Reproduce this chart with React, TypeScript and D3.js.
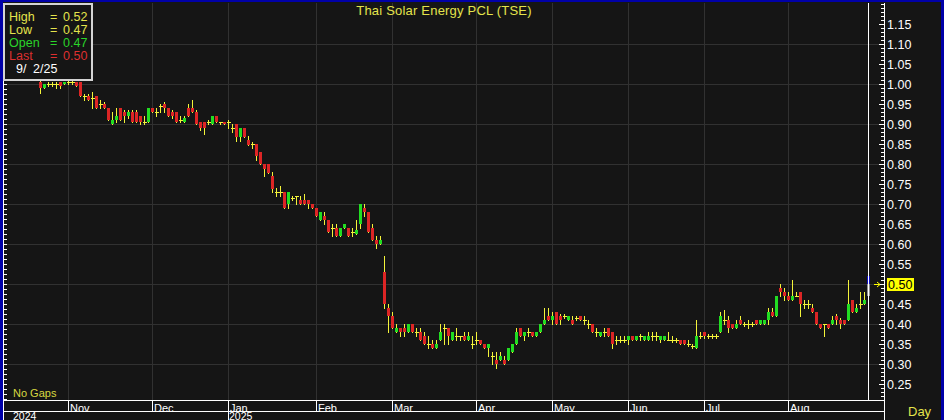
import React from 'react';
import * as d3 from 'd3';

// Daily OHLC, Thai Solar Energy PCL (TSE), late Oct 2024 -> 2 Sep 2025
const opens = [
  1.005, 0.99, 1.0, 1.0, 1.0, 1.005, 1.0, 1.005, 1.005, 1.005, 1.005, 0.97, 0.97, 0.965, 0.97, 0.95, 0.95, 0.94, 0.9, 0.91,
  0.94, 0.93, 0.92, 0.93, 0.93, 0.92, 0.905, 0.905, 0.94, 0.93, 0.945, 0.95, 0.94, 0.93, 0.93, 0.91, 0.905, 0.94, 0.94, 0.93,
  0.905, 0.905, 0.905, 0.9, 0.92, 0.905, 0.905, 0.905, 0.89, 0.9, 0.868, 0.89, 0.86, 0.85, 0.85, 0.83, 0.8, 0.8, 0.77, 0.73,
  0.73, 0.73, 0.7, 0.715, 0.72, 0.71, 0.71, 0.71, 0.7, 0.69, 0.66, 0.67, 0.66, 0.64, 0.64, 0.62, 0.64, 0.64, 0.63, 0.625,
  0.65, 0.69, 0.68, 0.64, 0.61, 0.6, 0.53, 0.44, 0.42, 0.38, 0.39, 0.39, 0.38, 0.4, 0.38, 0.38, 0.37, 0.35, 0.35, 0.34,
  0.36, 0.39, 0.39, 0.36, 0.37, 0.37, 0.37, 0.36, 0.35, 0.36, 0.36, 0.35, 0.34, 0.32, 0.31, 0.31, 0.31, 0.31, 0.33, 0.35,
  0.39, 0.37, 0.38, 0.38, 0.37, 0.38, 0.4, 0.42, 0.41, 0.43, 0.42, 0.42, 0.41, 0.41, 0.415, 0.42, 0.41, 0.4, 0.4, 0.38,
  0.37, 0.38, 0.39, 0.38, 0.36, 0.36, 0.36, 0.36, 0.37, 0.36, 0.37, 0.36, 0.36, 0.37, 0.37, 0.36, 0.36, 0.36, 0.36, 0.36,
  0.36, 0.36, 0.35, 0.345, 0.34, 0.37, 0.38, 0.37, 0.37, 0.37, 0.38, 0.41, 0.41, 0.4, 0.39, 0.41, 0.4, 0.4, 0.4, 0.41,
  0.4, 0.4, 0.41, 0.43, 0.42, 0.49, 0.48, 0.47, 0.46, 0.47, 0.48, 0.45, 0.45, 0.44, 0.43, 0.4, 0.4, 0.4, 0.4, 0.42,
  0.41, 0.41, 0.41, 0.46, 0.43, 0.45, 0.45, 0.47,
];
const highs = [
  1.01, 1.0, 1.005, 1.005, 1.005, 1.005, 1.005, 1.01, 1.01, 1.005, 1.005, 0.975, 0.975, 0.98, 0.97, 0.96, 0.955, 0.94, 0.93, 0.94,
  0.94, 0.935, 0.935, 0.935, 0.935, 0.92, 0.92, 0.94, 0.94, 0.94, 0.95, 0.955, 0.94, 0.935, 0.93, 0.92, 0.92, 0.95, 0.96, 0.935,
  0.905, 0.905, 0.91, 0.92, 0.92, 0.905, 0.905, 0.91, 0.9, 0.9, 0.89, 0.89, 0.87, 0.855, 0.85, 0.83, 0.8, 0.8, 0.78, 0.74,
  0.745, 0.73, 0.73, 0.72, 0.72, 0.72, 0.725, 0.71, 0.7, 0.69, 0.68, 0.68, 0.66, 0.65, 0.65, 0.64, 0.65, 0.64, 0.64, 0.66,
  0.7, 0.7, 0.68, 0.65, 0.62, 0.62, 0.57, 0.45, 0.43, 0.4, 0.39, 0.4, 0.4, 0.4, 0.39, 0.39, 0.38, 0.37, 0.36, 0.36,
  0.4, 0.4, 0.39, 0.38, 0.39, 0.37, 0.38, 0.38, 0.37, 0.38, 0.36, 0.35, 0.35, 0.33, 0.33, 0.33, 0.32, 0.34, 0.35, 0.39,
  0.39, 0.38, 0.39, 0.38, 0.38, 0.4, 0.44, 0.44, 0.43, 0.43, 0.425, 0.425, 0.42, 0.42, 0.42, 0.42, 0.42, 0.41, 0.4, 0.39,
  0.38, 0.39, 0.39, 0.38, 0.37, 0.37, 0.37, 0.37, 0.37, 0.37, 0.375, 0.37, 0.38, 0.38, 0.38, 0.37, 0.37, 0.38, 0.37, 0.365,
  0.36, 0.36, 0.36, 0.35, 0.41, 0.38, 0.38, 0.375, 0.375, 0.375, 0.43, 0.435, 0.42, 0.4, 0.41, 0.42, 0.405, 0.41, 0.405, 0.41,
  0.41, 0.41, 0.44, 0.44, 0.47, 0.5, 0.49, 0.48, 0.51, 0.48, 0.48, 0.46, 0.46, 0.45, 0.43, 0.4, 0.4, 0.4, 0.42, 0.425,
  0.415, 0.41, 0.51, 0.46, 0.45, 0.48, 0.48, 0.52,
];
const lows = [
  0.978, 0.99, 0.995, 0.995, 0.99, 0.99, 1.0, 1.0, 1.0, 0.995, 0.97, 0.96, 0.96, 0.94, 0.94, 0.94, 0.94, 0.91, 0.9, 0.905,
  0.91, 0.905, 0.915, 0.905, 0.905, 0.9, 0.9, 0.905, 0.93, 0.92, 0.93, 0.93, 0.92, 0.915, 0.905, 0.905, 0.905, 0.92, 0.93, 0.9,
  0.885, 0.875, 0.9, 0.9, 0.905, 0.9, 0.9, 0.89, 0.88, 0.858, 0.858, 0.868, 0.848, 0.84, 0.81, 0.8, 0.77, 0.778, 0.73, 0.72,
  0.72, 0.69, 0.69, 0.71, 0.7, 0.7, 0.7, 0.69, 0.69, 0.67, 0.66, 0.65, 0.63, 0.62, 0.62, 0.62, 0.64, 0.62, 0.62, 0.625,
  0.64, 0.67, 0.63, 0.61, 0.59, 0.6, 0.44, 0.38, 0.39, 0.38, 0.37, 0.37, 0.38, 0.38, 0.37, 0.36, 0.35, 0.34, 0.34, 0.34,
  0.36, 0.35, 0.35, 0.36, 0.36, 0.36, 0.36, 0.36, 0.34, 0.35, 0.35, 0.34, 0.32, 0.3, 0.29, 0.31, 0.3, 0.31, 0.33, 0.35,
  0.37, 0.36, 0.37, 0.37, 0.37, 0.38, 0.4, 0.41, 0.4, 0.4, 0.4, 0.415, 0.41, 0.4, 0.41, 0.41, 0.4, 0.39, 0.38, 0.37,
  0.37, 0.37, 0.37, 0.34, 0.35, 0.355, 0.355, 0.35, 0.36, 0.36, 0.36, 0.36, 0.36, 0.36, 0.36, 0.355, 0.36, 0.36, 0.355, 0.355,
  0.35, 0.35, 0.345, 0.34, 0.34, 0.365, 0.365, 0.365, 0.365, 0.365, 0.38, 0.4, 0.38, 0.39, 0.39, 0.4, 0.395, 0.39, 0.395, 0.4,
  0.4, 0.4, 0.4, 0.42, 0.42, 0.47, 0.46, 0.46, 0.46, 0.47, 0.42, 0.44, 0.44, 0.43, 0.4, 0.39, 0.37, 0.39, 0.4, 0.4,
  0.39, 0.4, 0.41, 0.43, 0.43, 0.44, 0.45, 0.47,
];
const closes = [
  0.99, 1.0, 1.0, 1.0, 1.0, 0.995, 1.005, 1.005, 1.005, 0.995, 0.97, 0.97, 0.96, 0.965, 0.94, 0.95, 0.94, 0.91, 0.91, 0.92,
  0.91, 0.92, 0.93, 0.905, 0.905, 0.905, 0.905, 0.94, 0.93, 0.93, 0.945, 0.94, 0.92, 0.92, 0.905, 0.91, 0.915, 0.92, 0.93, 0.9,
  0.89, 0.89, 0.905, 0.92, 0.905, 0.905, 0.9, 0.905, 0.89, 0.868, 0.89, 0.868, 0.848, 0.85, 0.82, 0.8, 0.788, 0.778, 0.737, 0.73,
  0.73, 0.69, 0.73, 0.715, 0.72, 0.7, 0.7, 0.7, 0.69, 0.67, 0.68, 0.66, 0.63, 0.64, 0.62, 0.64, 0.65, 0.62, 0.63, 0.635,
  0.7, 0.68, 0.63, 0.61, 0.6, 0.61, 0.45, 0.42, 0.39, 0.39, 0.38, 0.38, 0.4, 0.38, 0.38, 0.36, 0.35, 0.35, 0.34, 0.35,
  0.38, 0.39, 0.37, 0.38, 0.37, 0.37, 0.36, 0.37, 0.35, 0.36, 0.35, 0.34, 0.35, 0.32, 0.3, 0.32, 0.3, 0.34, 0.35, 0.38,
  0.37, 0.38, 0.38, 0.37, 0.38, 0.4, 0.41, 0.41, 0.42, 0.4, 0.41, 0.42, 0.42, 0.4, 0.415, 0.41, 0.41, 0.4, 0.38, 0.38,
  0.38, 0.38, 0.37, 0.35, 0.36, 0.36, 0.36, 0.37, 0.36, 0.37, 0.37, 0.37, 0.37, 0.37, 0.37, 0.37, 0.37, 0.36, 0.36, 0.36,
  0.35, 0.35, 0.35, 0.345, 0.37, 0.37, 0.37, 0.37, 0.37, 0.37, 0.42, 0.41, 0.39, 0.39, 0.4, 0.4, 0.4, 0.4, 0.4, 0.4,
  0.41, 0.41, 0.43, 0.42, 0.47, 0.48, 0.47, 0.46, 0.47, 0.47, 0.45, 0.45, 0.45, 0.43, 0.4, 0.39, 0.4, 0.39, 0.41, 0.41,
  0.4, 0.4, 0.45, 0.43, 0.44, 0.45, 0.46, 0.5,
];

const monthLabels = ['Nov', 'Dec', 'Jan', 'Feb', 'Mar', 'Apr', 'May', 'Jun', 'Jul', 'Aug'];
const monthStarts = [7, 28, 47, 69, 88, 109, 128, 147, 166, 187];
const yearLabels = ['2024', '2025'];
const yearStarts = [-7, 47];
const priceTicks = d3.range(5, 24).map((i) => i * 0.05);
const gridPrices = d3.range(3, 12).map((i) => i * 0.1);
const lastDateLabel = ['9/', '2/25'];
const title = 'Thai Solar Energy PCL (TSE)';

const W = 944;
const H = 420;
const BG = '#151515';
const GRID = '#313131';
const UP = '#22dd22';
const DOWN = '#dc2525';
const WICK = '#f4f43a';
const TXT_Y = '#e4e44c';
const BLUE = '#0000a8';
const FONT = '"Liberation Sans", Arial, sans-serif';

export default function App() {
  const n = closes.length;
  const x = d3.scaleLinear().domain([0, n - 1]).range([40, 868]);
  const y = d3.scaleLinear().domain([0.25, 1.15]).range([384, 24]);
  const py = (v: number) => Math.round(y(v));
  const plotL = 4;
  const plotR = 884;
  const plotT = 3;
  const plotB = 400;
  const last = n - 1;
  const lastX = Math.round(x(last));

  const minorTicks = d3.range(20, 121).map((i) => i / 100).filter((v) => y(v) > plotT && y(v) < plotB);
  const leftTicks = d3.range(0, 90).map((i) => 0.2 + i * 0.0125).filter((v) => y(v) > plotT + 2 && y(v) < plotB);

  return (
    <svg
      width={W}
      height={H}
      style={{ position: 'absolute', left: 0, top: 0, display: 'block' }}
      fontFamily={FONT}
    >
      <defs>
        <clipPath id="plotClip">
          <rect x={plotL} y={plotT} width={plotR - plotL} height={plotB - plotT} />
        </clipPath>
        <clipPath id="monthClip">
          <rect x={0} y={401} width={plotR} height={10} />
        </clipPath>
      </defs>
      <rect x={0} y={0} width={W} height={H} fill={BG} />

      {/* grid */}
      <g clipPath="url(#plotClip)">
        {gridPrices.map((v) => (
          <line key={'h' + v} x1={plotL} x2={plotR} y1={py(v) + 0.5} y2={py(v) + 0.5} stroke={GRID} strokeWidth={1} />
        ))}
        {monthStarts.map((i) => (
          <line key={'v' + i} x1={Math.round(x(i)) + 0.5} x2={Math.round(x(i)) + 0.5} y1={plotT} y2={plotB} stroke={GRID} />
        ))}
      </g>

      {/* candles */}
      <g clipPath="url(#plotClip)">
        {closes.map((c, i) => {
          if (i === last) return null;
          const o = opens[i];
          const cx = Math.round(x(i));
          const top = py(Math.max(o, c));
          const bot = py(Math.min(o, c));
          const isDoji = Math.abs(o - c) < 1e-9;
          return (
            <g key={i}>
              <line x1={cx + 0.5} x2={cx + 0.5} y1={py(highs[i])} y2={py(lows[i]) + 1} stroke={WICK} strokeWidth={1} />
              {isDoji ? (
                <rect x={cx - 1} y={py(c)} width={4} height={1} fill={WICK} />
              ) : (
                <rect x={cx - 1} y={top} width={3} height={Math.max(1, bot - top)} fill={c > o ? UP : DOWN} />
              )}
            </g>
          );
        })}
        {/* highlighted last bar */}
        <rect x={lastX - 1} y={py(highs[last])} width={3} height={py(closes[last]) - py(highs[last])} fill="#1010c0" />
        <rect x={lastX - 1} y={py(closes[last])} width={3} height={py(opens[last]) - py(closes[last])} fill="#8c8c8c" />
      </g>

      {/* cursor line */}
      <line x1={lastX + 0.5} x2={lastX + 0.5} y1={plotT} y2={plotB} stroke="#ffffff" />

      {/* bottom axis */}
      <line x1={3} x2={plotR} y1={400.5} y2={400.5} stroke="#ffffff" />
      <line x1={3} x2={plotR} y1={411.5} y2={411.5} stroke="#ffffff" />
      {monthStarts.map((i, k) => {
        const mx = Math.round(x(i)) + 0.5;
        const isYear = yearStarts.includes(i);
        return (
          <line key={'ms' + k} x1={mx} x2={mx} y1={400} y2={isYear ? 420 : 411} stroke="#ffffff" />
        );
      })}
      <g clipPath="url(#monthClip)">
        {monthStarts.map((i, k) => (
          <text key={'ml' + k} x={Math.round(x(i)) + 2} y={412} fill="#ffffff" fontSize={11}>
            {monthLabels[k]}
          </text>
        ))}
      </g>
      {yearStarts.map((i, k) => (
        <text key={'yl' + k} x={Math.round(x(i)) + 1} y={420} fill="#ffffff" fontSize={10.5}>
          {yearLabels[k]}
        </text>
      ))}

      {/* left axis */}
      <line x1={3.5} x2={3.5} y1={plotT} y2={H} stroke="#ffffff" />
      {leftTicks.map((v, k) => (
        <line key={'lt' + k} x1={3} x2={7} y1={py(v) + 0.5} y2={py(v) + 0.5} stroke="#ffffff" />
      ))}

      {/* right axis */}
      <line x1={plotR + 0.5} x2={plotR + 0.5} y1={plotT} y2={H} stroke="#ffffff" />
      {minorTicks.map((v, k) => (
        <line key={'rt' + k} x1={plotR - 3} x2={plotR} y1={py(v) + 0.5} y2={py(v) + 0.5} stroke="#ffffff" />
      ))}
      {priceTicks.map((v) => (
        <g key={'pt' + v}>
          <line x1={plotR - 5} x2={plotR} y1={py(v) + 0.5} y2={py(v) + 0.5} stroke="#ffffff" />
          {Math.abs(v - closes[last]) > 1e-9 && (
            <text x={887} y={py(v) + 5} fill="#ffffff" fontSize={12.5}>
              {v.toFixed(2)}
            </text>
          )}
        </g>
      ))}

      {/* last price tag */}
      <rect x={887} y={py(closes[last]) - 6} width={27} height={13} fill="#ffff00" />
      <text x={888} y={py(closes[last]) + 5} fill="#000000" fontSize={12.5}>
        {closes[last].toFixed(2)}
      </text>
      <line x1={874} x2={880} y1={py(closes[last]) + 0.5} y2={py(closes[last]) + 0.5} stroke="#ffff00" />
      <path
        d={`M877,${py(closes[last]) - 2} L880,${py(closes[last]) + 0.5} L877,${py(closes[last]) + 3}`}
        fill="none"
        stroke="#ffff00"
      />

      {/* title and labels */}
      <text x={444} y={15} fill={TXT_Y} fontSize={13} letterSpacing={0.2} textAnchor="middle">
        {title}
      </text>
      <text x={13} y={397} fill="#d8d840" fontSize={11}>
        No Gaps
      </text>
      <text x={908} y={416} fill={TXT_Y} fontSize={13}>
        Day
      </text>

      {/* legend box */}
      <rect x={4} y={4} width={88} height={76} fill={BG} stroke="#d4d4d4" strokeWidth={2} />
      {[
        ['High', highs[last], TXT_Y],
        ['Low', lows[last], TXT_Y],
        ['Open', opens[last], '#2ad42a'],
        ['Last', closes[last], '#dd3030'],
      ].map(([lab, val, col], k) => (
        <g key={'lg' + k} fill={col as string} fontSize={12.5}>
          <text x={9} y={21 + k * 13}>{lab as string}</text>
          <text x={50} y={21 + k * 13}>=</text>
          <text x={63} y={21 + k * 13}>{(val as number).toFixed(2)}</text>
        </g>
      ))}
      <text x={16} y={73} fill="#ffffff" fontSize={12.5}>{lastDateLabel[0]}</text>
      <text x={33} y={73} fill="#ffffff" fontSize={12.5}>{lastDateLabel[1]}</text>

      {/* blue frame */}
      <rect x={0} y={0} width={3} height={H} fill={BLUE} />
      <rect x={0} y={0} width={W} height={2} fill={BLUE} />
      <rect x={941} y={0} width={3} height={H} fill={BLUE} />
    </svg>
  );
}
